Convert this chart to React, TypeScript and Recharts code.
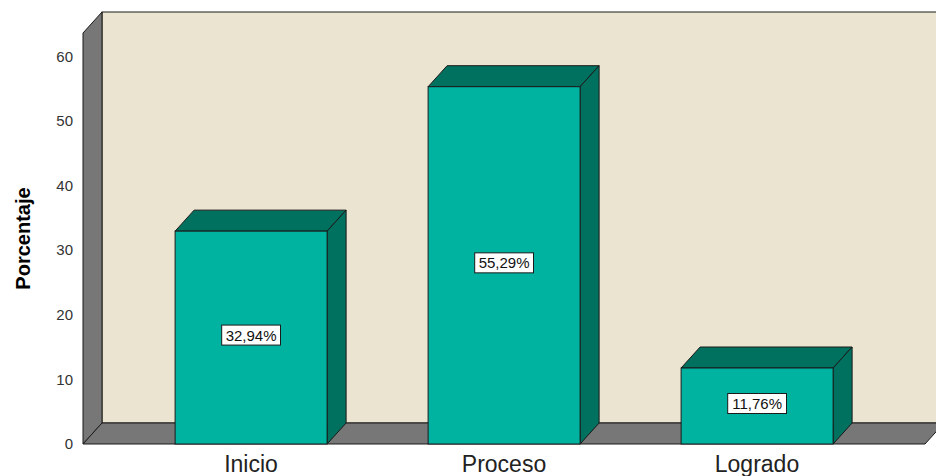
import React from 'react';
import { BarChart, Bar, XAxis, YAxis, ReferenceArea, LabelList } from 'recharts';

const categories = ['Inicio', 'Proceso', 'Logrado'];
const percentages = [32.94, 55.29, 11.76];
const yTicks = [0, 10, 20, 30, 40, 50, 60];
const yMax = 63.6;

const data = categories.map((name, i) => ({ name, value: percentages[i] }));

// depth of the pseudo-3D extrusion
const DX = 19;
const DY = -21;
const PAD = 41.5;

const WALL = '#EAE4D0';
const SIDE = '#777777';
const FRONT = '#00B3A0';
const DARK = '#00705F';
const EDGE = '#1a1a1a';

const pts = (arr: number[][]) => arr.map((p) => p.join(',')).join(' ');

// the reference area only spans the padded band range, so widen it back to the plot edges
const Walls = (props: any) => {
  const x = props.x - PAD;
  const width = props.width + PAD * 2;
  const { y, height } = props;
  const b = y + height;
  return (
    <g>
      <rect x={x + DX} y={y + DY} width={width} height={height} fill={WALL} stroke={EDGE} strokeWidth={1} />
      <polygon
        points={pts([[x, b], [x, y], [x + DX, y + DY], [x + DX, b + DY]])}
        fill={SIDE}
        stroke={EDGE}
        strokeWidth={1}
      />
      <polygon
        points={pts([[x, b], [x + width, b], [x + width + DX, b + DY], [x + DX, b + DY]])}
        fill={SIDE}
        stroke={EDGE}
        strokeWidth={1}
      />
    </g>
  );
};

const Box3D = (props: any) => {
  const { x, y, width, height } = props;
  const r = x + width;
  const b = y + height;
  return (
    <g>
      <polygon points={pts([[x, y], [x + DX, y + DY], [r + DX, y + DY], [r, y]])} fill={DARK} stroke={EDGE} strokeWidth={1} />
      <polygon points={pts([[r, y], [r + DX, y + DY], [r + DX, b + DY], [r, b]])} fill={DARK} stroke={EDGE} strokeWidth={1} />
      <rect x={x} y={y} width={width} height={height} fill={FRONT} stroke={EDGE} strokeWidth={1} />
    </g>
  );
};

const ValueTag = (props: any) => {
  const { x, y, width, height, value } = props;
  const text = `${Number(value).toFixed(2).replace('.', ',')}%`;
  const cx = x + width / 2;
  const cy = y + height / 2 - 2.5;
  const w = text.length * 8.8 + 6;
  return (
    <g>
      <rect x={cx - w / 2} y={cy - 10} width={w} height={20} fill="#ffffff" stroke={EDGE} strokeWidth={1} />
      <text x={cx} y={cy} textAnchor="middle" dominantBaseline="central" fontSize={15} fill="#111">
        {text}
      </text>
    </g>
  );
};

const YLabel = (props: any) => {
  const { viewBox } = props;
  const cx = 23;
  const cy = viewBox.y + viewBox.height / 2;
  return (
    <text
      x={cx}
      y={cy}
      transform={`rotate(-90, ${cx}, ${cy})`}
      textAnchor="middle"
      dominantBaseline="central"
      fontSize={20}
      fontWeight="bold"
      fill="#000"
    >
      Porcentaje
    </text>
  );
};

export default function App() {
  return (
    <div style={{ position: 'absolute', left: 0, top: 0, width: 936, height: 476, background: '#fff', fontFamily: '"Liberation Sans", Arial, sans-serif' }}>
      <BarChart
        width={936}
        height={476}
        data={data}
        margin={{ top: 33, right: 11, bottom: 0, left: 0 }}
        barCategoryGap="20%"
      >
        <ReferenceArea y1={0} y2={yMax} shape={<Walls />} ifOverflow="visible" zIndex={-50} />
        <XAxis
          dataKey="name"
          height={32}
          axisLine={false}
          tickLine={false}
          tickSize={0}
          tickMargin={12}
          padding={{ left: PAD, right: PAD }}
          tick={{ fontSize: 23, fill: '#222' }}
        />
        <YAxis
          width={83}
          domain={[0, yMax]}
          ticks={yTicks}
          axisLine={false}
          tickLine={false}
          tickSize={0}
          tickMargin={10}
          tick={{ fontSize: 15, fill: '#333' }}
          label={<YLabel />}
        />
        <Bar dataKey="value" shape={<Box3D />} isAnimationActive={false}>
          <LabelList dataKey="value" content={<ValueTag />} />
        </Bar>
      </BarChart>
    </div>
  );
}
